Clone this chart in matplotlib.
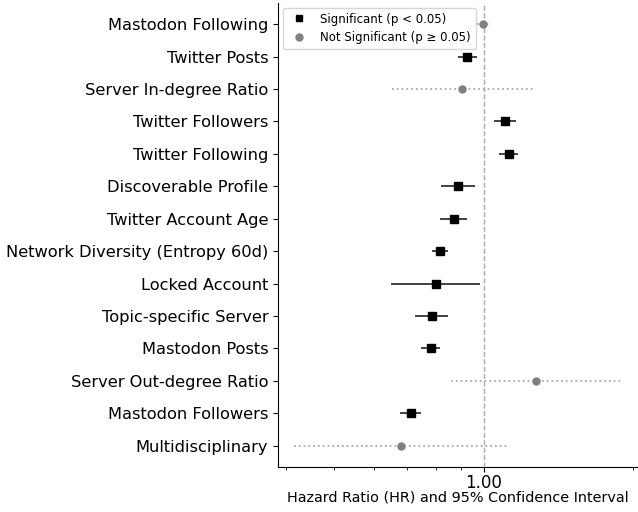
import numpy as np
import matplotlib
matplotlib.use('Agg')
import matplotlib.pyplot as plt
from matplotlib.lines import Line2D
from matplotlib.ticker import FixedLocator, FormatStrFormatter, NullFormatter

# values (top to bottom)
variables = ['Mastodon Following', 'Twitter Posts', 'Server In-degree Ratio',
             'Twitter Followers', 'Twitter Following', 'Discoverable Profile',
             'Twitter Account Age', 'Network Diversity (Entropy 60d)', 'Locked Account',
             'Topic-specific Server', 'Mastodon Posts', 'Server Out-degree Ratio',
             'Mastodon Followers', 'Multidisciplinary']
hr = [0.997, 0.927, 0.906, 1.103, 1.122, 0.887, 0.870, 0.815, 0.800, 0.785, 0.781, 1.276, 0.712, 0.682]
ci_low = [0.97, 0.886, 0.653, 1.050, 1.075, 0.821, 0.818, 0.785, 0.650, 0.726, 0.748, 0.860, 0.677, 0.415]
ci_high = [1.025, 0.970, 1.259, 1.159, 1.173, 0.959, 0.925, 0.847, 0.982, 0.847, 0.817, 1.888, 0.749, 1.115]
significant = [False, True, False, True, True, True, True, True, True, True, True, False, True, False]

fig = plt.figure(figsize=(6.38, 5.12), dpi=100)
ax = fig.add_axes([0.4357, 0.0885, 0.5627, 0.9055])

n = len(variables)
ypos = np.arange(n)[::-1]
for i in range(n):
    err = [[hr[i] - ci_low[i]], [ci_high[i] - hr[i]]]
    if significant[i]:
        ax.errorbar(hr[i], ypos[i], xerr=err, fmt='s', color='black', ecolor='#222222',
                    elinewidth=1.2, markersize=5.5, capsize=0, zorder=3)
    else:
        eb = ax.errorbar(hr[i], ypos[i], xerr=err, fmt='o', color='gray', ecolor='#aaaaaa',
                         elinewidth=1.3, markersize=5, capsize=0, zorder=3)
        eb[2][0].set_linestyle(':')

ax.axvline(1.0, color='#aaaaaa', linestyle='--', linewidth=1, zorder=1)
ax.set_xscale('log')
ax.xaxis.set_major_locator(FixedLocator([1.0]))
ax.xaxis.set_major_formatter(FormatStrFormatter('%.2f'))
ax.xaxis.set_minor_formatter(NullFormatter())
ax.tick_params(axis='x', labelsize=12, pad=2)
ax.set_yticks(ypos)
ax.set_yticklabels(variables, fontsize=11.7)
ax.set_xlabel('Hazard Ratio (HR) and 95% Confidence Interval', fontsize=10.4, labelpad=-1)
ax.spines['top'].set_visible(False)
ax.spines['right'].set_visible(False)

handles = [Line2D([0], [0], marker='s', color='black', linestyle='none', markersize=5),
           Line2D([0], [0], marker='o', color='gray', linestyle='none', markersize=5)]
ax.legend(handles, ['Significant (p < 0.05)', 'Not Significant (p \u2265 0.05)'],
          loc='upper left', fontsize=8.5, borderaxespad=0.4)

fig.savefig('out.png', dpi=100)
